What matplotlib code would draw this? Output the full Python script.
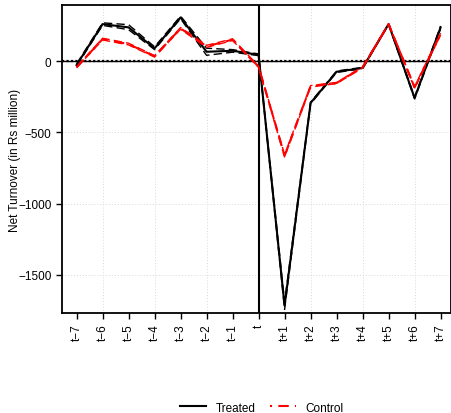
import numpy as np
import matplotlib
matplotlib.use("Agg")
from matplotlib import pyplot as plt
from matplotlib.lines import Line2D

plt.rcParams["font.family"] = ["Liberation Sans", "DejaVu Sans"]

periods = ["t\u22127", "t\u22126", "t\u22125", "t\u22124", "t\u22123", "t\u22122", "t\u22121",
           "t", "t+1", "t+2", "t+3", "t+4", "t+5", "t+6", "t+7"]

treated = [-28, 259, 236, 89, 306, 65, 72, 44, -1716, -294, -75, -49, 259, -259, 236]
treated_hi = [-20, 268, 255, 100, 315, 90, 80, 50, -1690, -288, -70, -44, 262, -252, 246]
treated_lo = [-36, 250, 220, 80, 297, 40, 62, 38, -1742, -300, -80, -54, 256, -266, 226]

control = [-44, 154, 119, 33, 229, 103, 150, -40, -664, -177, -154, -44, 259, -185, 189]
control_hi = [-40, 160, 125, 38, 235, 110, 156, -35, -655, -172, -150, -40, 262, -178, 196]
control_lo = [-48, 148, 113, 28, 223, 96, 144, -45, -673, -182, -158, -48, 256, -192, 182]

x = np.arange(len(periods))

fig = plt.figure(figsize=(4.51, 4.14), dpi=100)
ax = fig.add_axes([62 / 451, 1 - 314 / 414, 1 - 62 / 451, (314 - 6) / 414])

# dotted grid, every second period
for xi in x[1::2]:
    ax.axvline(xi, color="#d9d9d9", lw=0.7, ls=(0, (1, 2)), zorder=0)
for yv in (-1500, -1000, -500):
    ax.axhline(yv, color="#d9d9d9", lw=0.7, ls=(0, (1, 2)), zorder=0)

ax.axhline(0, color="black", lw=1.0, zorder=1)
ax.axhline(0, color="black", lw=1.6, ls=(0, (1, 1)), zorder=1)
ax.axvline(7, color="black", lw=1.5, zorder=1)

ax.plot(x, treated_hi, color="black", lw=1.0, ls=(0, (6, 3)))
ax.plot(x, treated_lo, color="black", lw=1.0, ls=(0, (6, 3)))
ax.plot(x, treated, color="black", lw=1.5)

ax.plot(x, control_hi, color="red", lw=1.0, ls=(0, (6, 3)))
ax.plot(x, control_lo, color="red", lw=1.0, ls=(0, (6, 3)))
ax.plot(x, control, color="red", lw=1.5, ls=(0, (5, 3)))

ax.set_xlim(-0.56, 14.4)
ax.set_ylim(-1767, 393)
ax.set_xticks(x)
ax.set_xticklabels(periods, rotation=90, fontsize=8.5)
ax.set_yticks([-1500, -1000, -500, 0])
ax.set_yticklabels(["\u22121500", "\u22121000", "\u2212500", "0"], fontsize=8.5)
ax.tick_params(direction="out", length=4, width=1, color="black")
ax.set_ylabel("Net Turnover (in Rs million)", fontsize=8.5, labelpad=-2)
for s in ax.spines.values():
    s.set_linewidth(1.3)

handles = [Line2D([], [], color="black", lw=1.5),
           Line2D([], [], color="red", lw=1.5, ls=(0, (1, 3, 5, 3)))]
fig.legend(handles, ["Treated", "Control"], loc="lower center", ncol=2, frameon=False,
           fontsize=8.5, bbox_to_anchor=(0.58, -0.027), handlelength=2.2, columnspacing=1.2)

fig.savefig("out.png", dpi=100)
